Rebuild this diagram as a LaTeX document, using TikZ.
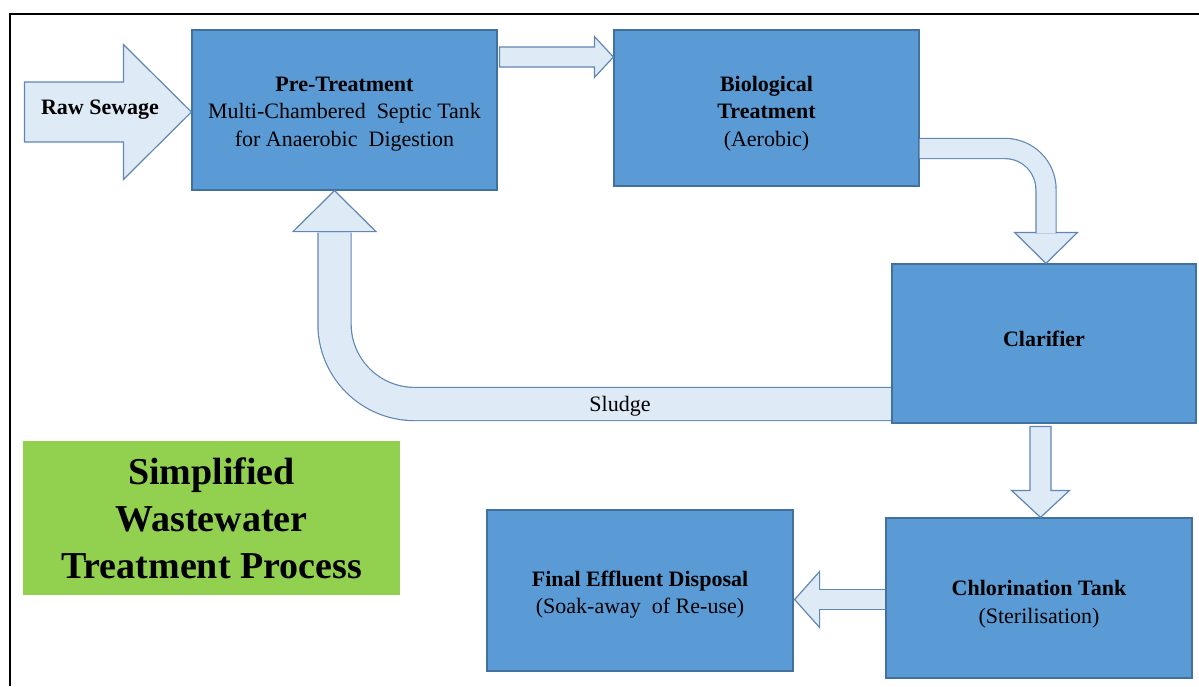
\documentclass[tikz,border=0pt]{standalone}
\usepackage{fontspec}
\setmainfont{Liberation Serif}
\usetikzlibrary{calc}
\definecolor{wwboxblue}{RGB}{91,155,213}
\definecolor{wwboxedge}{RGB}{65,113,156}
\definecolor{wwflowfill}{RGB}{222,235,247}
\definecolor{wwflowedge}{RGB}{96,134,178}
\definecolor{wwtitlegreen}{RGB}{146,208,80}
\tikzset{
  ww box/.style={
    draw=wwboxedge,
    fill=wwboxblue,
    line width=1.2pt,
    inner sep=0pt,
    align=center,
    font=\fontsize{22}{27.5}\selectfont,
  },
  ww shaft/.style={
    draw=wwflowedge,
    line width=1.2pt,
    double=wwflowfill,
    double distance=#1,
  },
  ww head/.style={
    fill=wwflowfill,
    draw=wwflowedge,
    line width=1.2pt,
    line join=miter,
  },
}

\begin{document}
\begin{tikzpicture}[x=1pt,y=-1pt]
  \useasboundingbox (0,0) rectangle (1199,686);
  \draw[line width=2pt] (10,686) -- (10,14) -- (1199,14);

  \node[ww box, minimum width=305pt, minimum height=160pt, text height=77pt] (pre) at (344.5,110)
    {\textbf{Pre-Treatment}\\Multi-Chambered\ \ Septic Tank\\for Anaerobic\ \ Digestion};
  \node[ww box, minimum width=305pt, minimum height=156pt, text height=81pt] (bio) at (766.5,108)
    {\textbf{Biological}\\\textbf{Treatment}\\(Aerobic)};
  \node[ww box, minimum width=304pt, minimum height=159pt, text depth=10pt] (clar) at (1044,343.5)
    {\textbf{Clarifier}};
  \node[ww box, minimum width=306pt, minimum height=160pt, text height=55pt] (chlor) at (1039,598)
    {\textbf{Chlorination Tank}\\(Sterilisation)};
  \node[ww box, minimum width=306pt, minimum height=161pt, text height=51pt] (final) at (640,590.5)
    {\textbf{Final Effluent Disposal}\\(Soak-away\ \ of Re-use)};
  \node[fill=wwtitlegreen, minimum width=377pt, minimum height=154pt, align=center,
    font=\fontsize{38}{47}\selectfont\bfseries] (title) at (211.5,518)
    {Simplified\\Wastewater\\Treatment Process};

  % raw sewage inlet
  \filldraw[ww head] ($(pre.west)+(0,2)$) -- ++(-68,-67.5) -- ++(0,37.5) -- ++(-99,0)
    -- ++(0,60) -- ++(99,0) -- ++(0,37.5) -- cycle;
  \node[font=\fontsize{22}{28}\selectfont\bfseries] (raw) at (100,110) {Raw Sewage};

  % pre-treatment to biological
  \filldraw[ww head] ($(bio.west)+(0,-51)$) -- ++(-19,-20.5) -- ++(0,10.5) -- ++(-95,0)
    -- ++(0,20) -- ++(95,0) -- ++(0,10.5) -- cycle;

  % biological to clarifier
  \filldraw[ww head] ($(clar.north)+(2,0)$) -- ++(-31.5,-31) -- ++(63,0) -- cycle;
  \draw[ww shaft=19pt, rounded corners=41pt] ($(bio.east)+(0,40.5)$) -| ($(clar.north)+(2,-30)$);

  % clarifier to chlorination
  \filldraw[ww head] ($(chlor.north)+(1.5,0)$) -- ++(-29,-27) -- ++(18.5,0) -- ++(0,-64)
    -- ++(21,0) -- ++(0,64) -- ++(18.5,0) -- cycle;

  % chlorination to final disposal
  \filldraw[ww head] ($(final.east)+(1,9)$) -- ++(25,-28) -- ++(0,56) -- cycle;
  \draw[ww shaft=19pt] ($(chlor.west)+(-0.6,1.5)$) -- ($(final.east)+(25,9)$);

  % sludge return
  \filldraw[ww head] ($(pre.south)+(-10,0)$) -- ++(-41.5,41) -- ++(83,0) -- cycle;
  \draw[ww shaft=32pt, rounded corners=80pt] ($(clar.west)+(-0.6,60.5)$) -| ($(pre.south)+(-10,42)$);
  \node[font=\fontsize{22}{28}\selectfont] (sludge) at (620,406) {Sludge};
\end{tikzpicture}
\end{document}
